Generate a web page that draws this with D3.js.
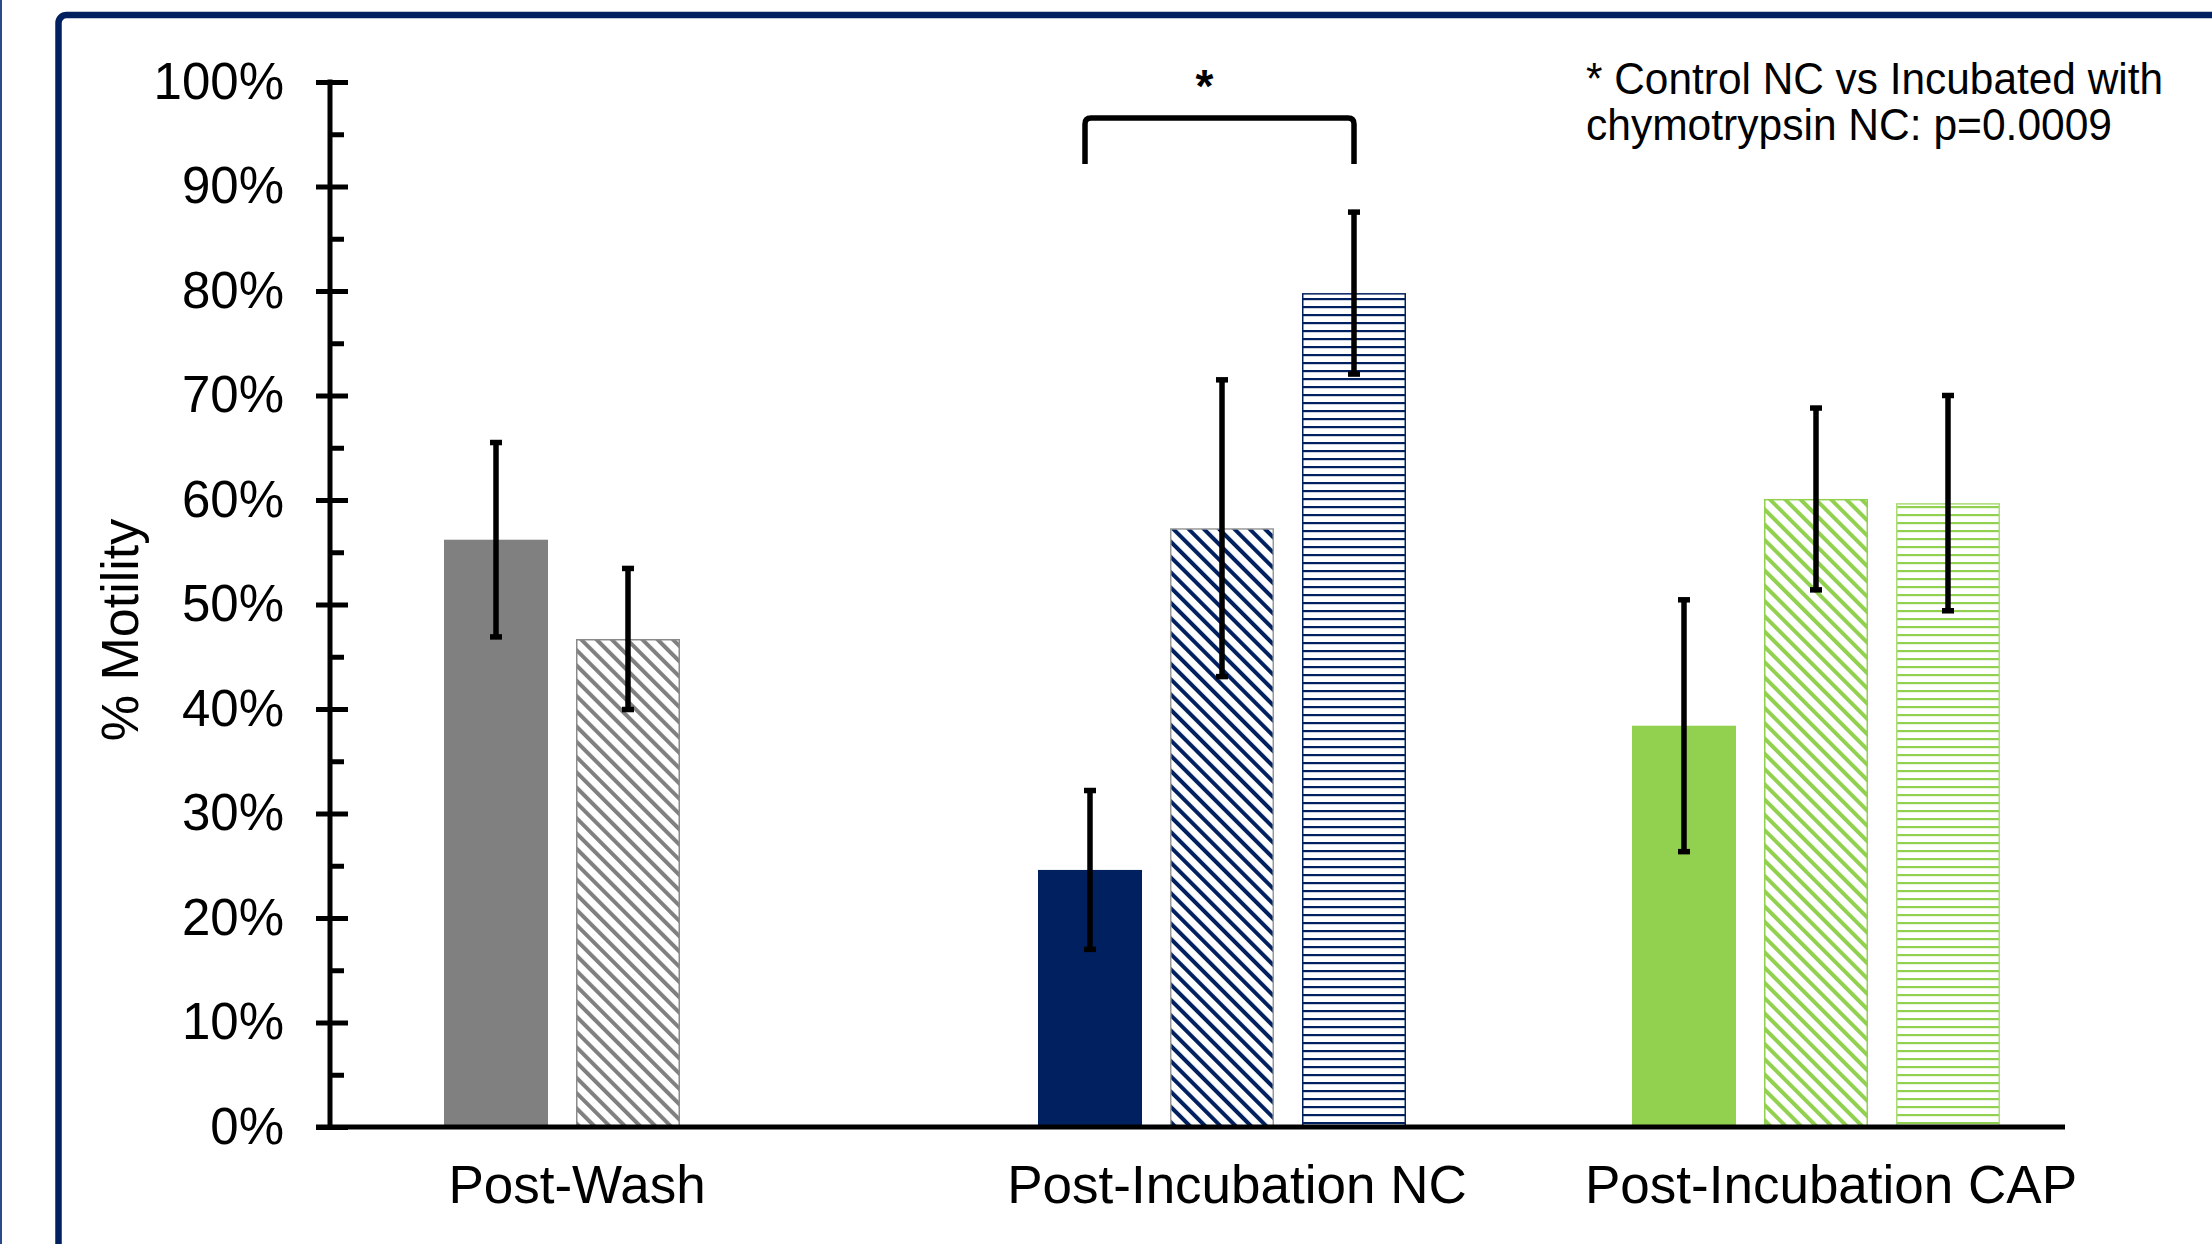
<!DOCTYPE html>
<html>
<head>
<meta charset="utf-8">
<script src="https://cdn.jsdelivr.net/npm/d3@7"></script>
<style>
  html, body { margin: 0; padding: 0; background: #fff; }
  svg { display: block; }
  text { font-family: "Liberation Sans", Arial, Helvetica, sans-serif; fill: #000; }
</style>
</head>
<body>
<svg id="chart" width="2212" height="1244"></svg>
<script>
// Sperm motility (%) by sampling point, three treatment series
const categories = ["Post-Wash", "Post-Incubation NC", "Post-Incubation CAP"];
const seriesNames = ["Control", "Incubated with chymotrypsin", "Incubated (horizontal)"];

// mean motility (fraction); null = not measured
const controlMean      = [0.562, 0.246, 0.384];
const chymotrypsinMean = [0.467, 0.573, 0.601];
const thirdMean        = [null,  0.798, 0.597];

// error-bar half widths (fraction)
const controlErr      = [0.093, 0.076, 0.1205];
const chymotrypsinErr = [0.0675, 0.142, 0.087];
const thirdErr        = [null,  0.0775, 0.103];

const yTickValues = [0, 0.1, 0.2, 0.3, 0.4, 0.5, 0.6, 0.7, 0.8, 0.9, 1.0];
const yMinorValues = [0.05, 0.15, 0.25, 0.35, 0.45, 0.55, 0.65, 0.75, 0.85, 0.95];

const annotationLines = ["* Control NC vs Incubated with", "chymotrypsin NC: p=0.0009"];

// colours per category, outline colours for the hatched series
const categoryColors = ["#808080", "#002060", "#92d050"];
const diagOutline = ["#8a8a8a", "#9a9a9a", "#92d050"];
const horizOutline = ["#808080", "#002060", "#a9dc74"];

const svg = d3.select("#chart");
const defs = svg.append("defs");

// page frame
svg.append("rect").attr("x", 0).attr("y", 0).attr("width", 2).attr("height", 1244).attr("fill", "#2a4a8a");
svg.append("rect")
  .attr("x", 58.5).attr("y", 15).attr("width", 2400).attr("height", 1500)
  .attr("rx", 8).attr("fill", "none").attr("stroke", "#002060").attr("stroke-width", 6.5);

// hatch patterns
categoryColors.forEach((c, i) => {
  const pd = defs.append("pattern")
    .attr("id", "diag-" + i).attr("patternUnits", "userSpaceOnUse")
    .attr("width", 10.8).attr("height", 10.8)
    .attr("patternTransform", "rotate(-45)");
  pd.append("rect").attr("width", 10.8).attr("height", 10.8).attr("fill", "#fff");
  pd.append("rect").attr("x", 0).attr("width", 4).attr("height", 10.8).attr("fill", c);

  const ph = defs.append("pattern")
    .attr("id", "horiz-" + i).attr("patternUnits", "userSpaceOnUse")
    .attr("width", 8).attr("height", 8).attr("y", 2);
  ph.append("rect").attr("width", 8).attr("height", 8).attr("fill", "#fff");
  ph.append("rect").attr("y", 0).attr("width", 8).attr("height", 2.2).attr("fill", c);
});

// scales
const axisX = 330, plotTop = 82, plotBottom = 1127, axisEnd = 2065;
const y = d3.scaleLinear().domain([0, 1]).range([plotBottom, plotTop]);
const x0 = d3.scaleBand().domain(categories).range([331, 2113]).padding(0);
const x1 = d3.scaleBand().domain(d3.range(3)).range([113, 481]).paddingInner(28 / 132).paddingOuter(0);

const means = [controlMean, chymotrypsinMean, thirdMean];
const errs = [controlErr, chymotrypsinErr, thirdErr];

const bars = [];
categories.forEach((cat, ci) => {
  means.forEach((arr, si) => {
    if (arr[ci] != null) bars.push({ cat, ci, si, v: arr[ci], e: errs[si][ci] });
  });
});

function barFill(d) {
  if (d.si === 0) return categoryColors[d.ci];
  if (d.si === 1) return "url(#diag-" + d.ci + ")";
  return "url(#horiz-" + d.ci + ")";
}
function barStroke(d) {
  if (d.si === 0) return "none";
  if (d.si === 1) return diagOutline[d.ci];
  return horizOutline[d.ci];
}

const g = svg.append("g");
g.selectAll("rect.bar").data(bars).join("rect")
  .attr("class", "bar")
  .attr("x", d => x0(d.cat) + x1(d.si) + (d.si ? 0.75 : 0))
  .attr("y", d => y(d.v) + (d.si ? 0.75 : 0))
  .attr("width", d => x1.bandwidth() - (d.si ? 1.5 : 0))
  .attr("height", d => y(0) - y(d.v) - (d.si ? 0.75 : 0))
  .attr("fill", barFill)
  .attr("stroke", barStroke)
  .attr("stroke-width", 1.5);

// error bars
const cx = d => x0(d.cat) + x1(d.si) + x1.bandwidth() / 2;
const eb = g.selectAll("g.err").data(bars).join("g").attr("class", "err");
eb.append("line")
  .attr("x1", cx).attr("x2", cx)
  .attr("y1", d => y(d.v + d.e)).attr("y2", d => y(d.v - d.e))
  .attr("stroke", "#000").attr("stroke-width", 5.5);
[1, -1].forEach(sgn => {
  eb.append("line")
    .attr("x1", d => cx(d) - 6).attr("x2", d => cx(d) + 6)
    .attr("y1", d => y(d.v + sgn * d.e)).attr("y2", d => y(d.v + sgn * d.e))
    .attr("stroke", "#000").attr("stroke-width", 5.5);
});

// y axis: major ticks cross the spine, minor ticks on the inside
const yAxisG = svg.append("g").attr("transform", `translate(${axisX},0)`)
  .call(d3.axisLeft(y).tickValues(yTickValues).tickFormat(d3.format(".0%")).tickSize(14).tickPadding(32));
yAxisG.select(".domain").remove();
yAxisG.selectAll(".tick line").attr("x1", 18).attr("x2", -14).attr("stroke", "#000").attr("stroke-width", 5);
yAxisG.selectAll(".tick text").attr("font-size", 51).attr("font-family", "Liberation Sans, Arial, sans-serif").attr("fill", "#000");

const yMinorG = svg.append("g").attr("transform", `translate(${axisX},0)`)
  .call(d3.axisRight(y).tickValues(yMinorValues).tickFormat("").tickSize(14));
yMinorG.select(".domain").remove();
yMinorG.selectAll(".tick line").attr("stroke", "#000").attr("stroke-width", 5);

svg.append("line").attr("x1", axisX).attr("x2", axisX).attr("y1", plotTop - 2.5).attr("y2", plotBottom + 2.5)
  .attr("stroke", "#000").attr("stroke-width", 5);
svg.append("line").attr("x1", axisX - 14).attr("x2", axisEnd).attr("y1", plotBottom).attr("y2", plotBottom)
  .attr("stroke", "#000").attr("stroke-width", 5);

// category labels under the bars of each group
categories.forEach((cat, ci) => {
  const present = bars.filter(b => b.ci === ci);
  const left = d3.min(present, b => x0(b.cat) + x1(b.si));
  const right = d3.max(present, b => x0(b.cat) + x1(b.si) + x1.bandwidth());
  svg.append("text")
    .attr("x", (left + right) / 2 + 15).attr("y", 1203)
    .attr("text-anchor", "middle").attr("font-size", 53)
    .text(cat);
});

// y axis title
svg.append("text")
  .attr("transform", "translate(120,630) rotate(-90)")
  .attr("text-anchor", "middle").attr("dy", "0.35em")
  .attr("font-size", 52)
  .text("% Motility");

// significance bracket between Control NC and the third NC bar
const nc = categories[1];
const bx1 = x0(nc) + x1(0) + x1.bandwidth() / 2 - 5;
const bx2 = x0(nc) + x1(2) + x1.bandwidth() / 2;
const bTop = plotTop + 36, bBottom = plotTop + 82, r = 6;
svg.append("path")
  .attr("d", `M${bx1},${bBottom} V${bTop + r} Q${bx1},${bTop} ${bx1 + r},${bTop} H${bx2 - r} Q${bx2},${bTop} ${bx2},${bTop + r} V${bBottom}`)
  .attr("fill", "none").attr("stroke", "#000").attr("stroke-width", 5.5);
svg.append("text")
  .attr("x", (bx1 + bx2) / 2 - 15).attr("y", 102)
  .attr("text-anchor", "middle").attr("font-size", 46).attr("font-weight", "bold")
  .text("*");

// p-value note
const noteWidths = [577, 526];
annotationLines.forEach((t, i) => {
  svg.append("text")
    .attr("x", 1586).attr("y", 94 + i * 46)
    .attr("font-size", 45)
    .attr("textLength", noteWidths[i]).attr("lengthAdjust", "spacingAndGlyphs")
    .text(t);
});
</script>
</body>
</html>
